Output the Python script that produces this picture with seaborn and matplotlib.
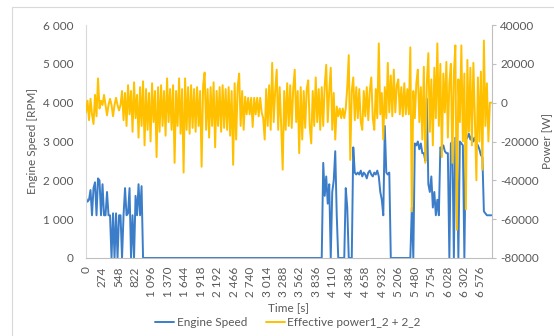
import numpy as np
import pandas as pd
import matplotlib
matplotlib.use("Agg")
import matplotlib.pyplot as plt
import seaborn as sns
from matplotlib.lines import Line2D

# ---------------- data ----------------
time_step_s = 25

engine_speed_rpm = [
    1550, 1450, 1500, 1750, 1100, 1800, 1950, 1100, 2050, 2000,
    1100, 1900, 1100, 1100, 1700, 1100, 1100, 0, 1150, 0,
    1150, 0, 1100, 1100, 0, 1100, 1800, 1100, 1150, 1800,
    0, 1100, 0, 1600, 1100, 1900, 1100, 1850, 0, 0,
    0, 0, 0, 0, 0, 0, 0, 0, 0, 0,
    0, 0, 0, 0, 0, 0, 0, 0, 0, 0,
    0, 0, 0, 0, 0, 0, 0, 0, 0, 0,
    0, 0, 0, 0, 0, 0, 0, 0, 0, 0,
    0, 0, 0, 0, 0, 0, 0, 0, 0, 0,
    0, 0, 0, 0, 0, 0, 0, 0, 0, 0,
    0, 0, 0, 0, 0, 0, 0, 0, 0, 0,
    0, 0, 0, 0, 0, 0, 0, 0, 0, 0,
    0, 0, 0, 0, 0, 0, 0, 0, 0, 0,
    0, 0, 0, 0, 0, 0, 0, 0, 0, 0,
    0, 0, 0, 0, 0, 0, 0, 0, 0, 0,
    0, 0, 0, 0, 0, 0, 0, 0, 2450, 1600,
    2100, 1400, 1900, 0, 1700, 2000, 2750, 1100, 0, 0,
    0, 0, 0, 1800, 1300, 0, 0, 0, 2850, 2200,
    2150, 2200, 2150, 2250, 2100, 2200, 2150, 2050, 2200, 2250,
    2150, 2100, 2200, 2150, 2250, 2100, 1700, 1500, 1100, 3400,
    2200, 2150, 2200, 0, 0, 0, 0, 0, 0, 0,
    0, 0, 0, 0, 0, 0, 0, 1300, 0, 2950,
    2900, 3000, 2800, 2950, 2700, 2700, 2500, 4100, 1900, 1700,
    2100, 1300, 1700, 1100, 1500, 1100, 2850, 2800, 2900, 2750,
    2700, 2700, 0, 2950, 3000, 0, 3100, 3050, 0, 3000,
    2950, 2900, 0, 3050, 3100, 3200, 3050, 3150, 3000, 3100,
    2950, 2900, 2800, 2650, 2600, 1200, 1150, 1100, 1100, 1100,
    1100,
]

effective_power_w = [
    -5000, 1000, -9000, 2000, -6000, -11000, 4000, -7000, 12500, -3000,
    1000, -1200, 4000, -1200, -6500, -1200, 2000, -1200, -7000, -1200,
    2500, -1200, -4000, -1200, 6000, -9000, 5000, -12000, 9000, -6000,
    6000, -15000, 10500, -8000, 4000, -18000, 8000, -12000, 11000, -22000,
    7000, -14000, 5000, -20000, 10000, -10000, 6000, -28000, 8000, -15000,
    9000, -12000, 6000, -17000, 12500, -10000, 7000, -14000, 9000, -31000,
    6000, -12000, 12500, -16000, 7000, -36000, 12500, -14000, 8000, -16000,
    9000, -13000, 7000, -15000, 8000, -12000, 6000, -33000, 9000, 15500,
    -14000, 7000, -18000, 8000, -12000, 10500, -23000, 6000, -12000, 8000,
    -15000, 9000, -13000, 7000, -14000, 8000, -17000, 6000, -32000, 10000,
    -19000, 8000, 15000, -12000, 6000, -14000, 3000, -6000, 2500, -6000,
    2500, -12500, 2500, -6000, 2500, -7000, 2500, -5000, -8000, -19000,
    7000, -12000, 9000, -14000, 20500, -10000, 6000, 17000, -14000, 8000,
    -12000, -34500, 6000, -14000, 10000, -12000, 9000, -13000, 7000, 17000,
    -10000, 6000, -26000, 8000, -19000, 6000, -13000, 7000, 11500, -12000,
    -21000, 6000, -12000, 13000, -10000, 7000, -14000, 8000, -12000, 9000,
    19500, -10000, 6000, 18000, -14000, 5000, -19000, -2000, -7000, -3000,
    -8000, -3000, -8000, -3000, 8000, 24500, -29500, 6000, 13000, -9000,
    8000, -8000, 7000, -10000, -14000, 6000, -7000, 8000, -9000, 6000,
    13000, -8000, -14000, 7000, -8000, 30500, -6000, 5000, -19000, 8000,
    -8000, 20500, -5000, 14000, -7000, 17000, -5000, 9000, 12000, -6000,
    8000, -7000, 10000, -6000, 7000, -6000, 28500, -56000, 6000, -8000,
    10000, 17000, -10000, 8000, -19000, 18500, -31000, 10000, 25500, -15000,
    12000, -22000, 18000, -8000, 30500, -12000, 20000, -28000, 15000, -5000,
    21000, -18000, 10000, 20000, -31000, 15000, 29500, -65500, 12000, -10000,
    29500, -20000, 15000, -55000, 22000, -15000, 18000, -22000, 20500, -8000,
    -40000, 13000, -20000, 16000, -34500, 32000, -12000, 10000, -20000, 0,
    0,
]

x_tick_values = [0, 274, 548, 822, 1096, 1370, 1644, 1918, 2192, 2466, 2740,
                 3014, 3288, 3562, 3836, 4110, 4384, 4658, 4932, 5206, 5480,
                 5754, 6028, 6302, 6576]
left_ticks = [0, 1000, 2000, 3000, 4000, 5000, 6000]
right_ticks = [-80000, -60000, -40000, -20000, 0, 20000, 40000]

series_speed = "Engine Speed"
series_power = "Effective power1_2 + 2_2"

time_s = np.arange(len(engine_speed_rpm)) * time_step_s
df = pd.DataFrame({"time": time_s, "speed": engine_speed_rpm,
                   "power": effective_power_w})

# ---------------- style ----------------
sns.set_style("white")
plt.rcParams['font.family'] = ['Lato', 'DejaVu Sans']

BLUE = "#3B7DC8"
ORANGE = "#FFC000"
TXT = "#595959"
AX_COL = "#BFBFBF"
FS = 8.5

W, H = 554, 336
fig = plt.figure(figsize=(W / 100, H / 100), dpi=100)
ax = fig.add_axes([86 / W, 1 - 258 / H, (492 - 86) / W, (258 - 25) / H])
ax2 = ax.twinx()

sns.lineplot(data=df, x="time", y="speed", ax=ax, color=BLUE, lw=1.4,
             legend=False, sort=False, estimator=None)
sns.lineplot(data=df, x="time", y="power", ax=ax2, color=ORANGE, lw=1.4,
             legend=False, sort=False, estimator=None)

ax.set_xlim(0, 6760)
ax.set_ylim(0, 6000)
ax2.set_ylim(-80000, 40000)

fmt = lambda v: f"{int(v):,}".replace(",", " ")
ax.set_yticks(left_ticks)
ax.set_yticklabels([fmt(v) for v in left_ticks])
ax.set_xticks(x_tick_values)
ax.set_xticklabels([fmt(v) for v in x_tick_values], rotation=90)
ax2.set_yticks(right_ticks)
ax2.set_yticklabels([str(v) for v in right_ticks])

ax.tick_params(axis="y", length=0, pad=9, labelsize=FS, labelcolor=TXT)
ax.tick_params(axis="x", length=0, pad=6, labelsize=FS, labelcolor=TXT)
ax2.tick_params(axis="y", length=3, width=0.8, color=AX_COL, pad=3,
                labelsize=FS, labelcolor=TXT)

for a in (ax, ax2):
    a.set_xlabel("")
    a.set_ylabel("")
    a.grid(False)
    for s in a.spines.values():
        s.set_visible(False)
ax.spines["left"].set_visible(True)
ax.spines["left"].set_color("#D9D9D9")
ax.spines["left"].set_linewidth(0.8)
ax.spines["bottom"].set_visible(True)
ax.spines["bottom"].set_color(AX_COL)
ax.spines["bottom"].set_linewidth(0.8)
ax2.spines["right"].set_visible(True)
ax2.spines["right"].set_color(AX_COL)
ax2.spines["right"].set_linewidth(0.8)

fig.text(33 / W, 1 - 141 / H, "Engine Speed [RPM]", rotation=90,
         ha="center", va="center", fontsize=FS, color=TXT)
fig.text(548 / W, 1 - 141 / H, "Power [W]", rotation=90,
         ha="center", va="center", fontsize=FS, color=TXT)
fig.text(288 / W, 1 - 308 / H, "Time [s]", ha="center", va="center",
         fontsize=FS, color=TXT)

handles = [Line2D([], [], color=BLUE, lw=1.4), Line2D([], [], color=ORANGE, lw=1.4)]
fig.legend(handles, [series_speed, series_power], loc="center",
           bbox_to_anchor=(288 / W, 1 - 323 / H), ncol=2, frameon=False,
           fontsize=FS, handlelength=1.6, handletextpad=0.2,
           columnspacing=1.6, labelcolor=TXT)

# chart-area border
fig.add_artist(Line2D([12 / W, 1], [1 - 7 / H, 1 - 7 / H], color="#D9D9D9",
                      lw=0.8, transform=fig.transFigure))
fig.add_artist(Line2D([12 / W, 12 / W], [0, 1 - 7 / H], color="#D9D9D9",
                      lw=0.8, transform=fig.transFigure))

fig.savefig("out.png", dpi=100)
